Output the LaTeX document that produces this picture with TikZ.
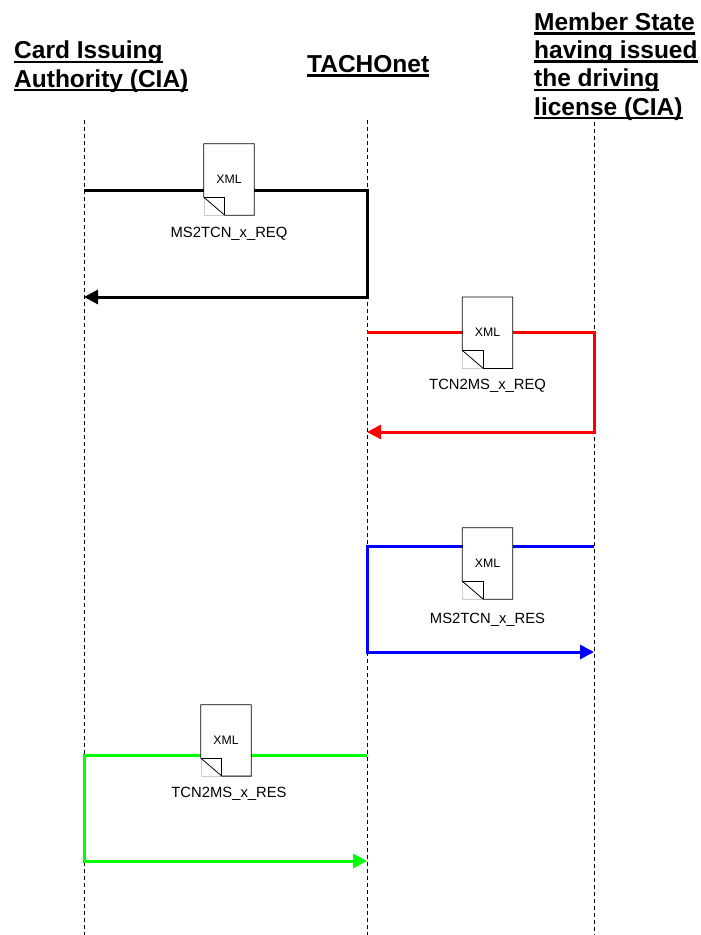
\documentclass[tikz,border=0pt]{standalone}
\usepackage{fontspec}
\setmainfont{Liberation Sans}
\usetikzlibrary{arrows.meta}

\newcommand\hdrul[1]{\setbox0=\hbox{#1}\rlap{\rule[-4.3pt]{\wd0}{2.6pt}}\box0}
\newcommand\xmlfold[1]{%
  \draw [gray!40] ([yshift=18pt]#1.south west) -- (#1.south west) -- ([xshift=21pt]#1.south west);
  \draw [line width=.8pt] (#1.north west) -- (#1.north east) -- (#1.south east) -- ([xshift=21pt]#1.south west) -- ([yshift=18pt]#1.south west) -- cycle;
  \draw [line width=.8pt] ([yshift=18pt]#1.south west) -- ([xshift=21pt,yshift=18pt]#1.south west) -- ([xshift=21pt]#1.south west);}

\tikzset{
  lifeline/.style={line width=.8pt, dash pattern=on 4pt off 3pt},
  msg/.style={line width=3pt, -{Triangle[length=14pt,width=14pt]}},
  xmldoc/.style={fill=white, minimum width=50pt, minimum height=71pt, inner sep=0pt, font=\fontsize{12.3}{14}\selectfont},
  msglabel/.style={anchor=base, inner sep=0pt, font=\fontsize{14.8}{17}\selectfont},
  header/.style={anchor=base west, inner sep=0pt, align=left, font=\fontsize{24.5}{28.2}\selectfont\bfseries},
}

\begin{document}
\begin{tikzpicture}[x=1pt, y=-1pt]
		\useasboundingbox (0,0) rectangle (701,935);

		% base anchor sits on the last line
		\node (cia) at (14,87) [header] {\hdrul{Card Issuing}\\\hdrul{Authority (CIA)}};
		\node (tcn) at (307,72.7) [header] {\hdrul{TACHOnet}};
		\node (ms) at (534,115) [header] {\hdrul{Member State}\\\hdrul{having issued}\\\hdrul{the driving}\\\hdrul{license (CIA)}};

		\draw [lifeline] (84,120) -- (84,935);
		\draw [lifeline] (367,120) -- (367,935);
		\draw [lifeline] (594,122) -- (594,935);

		% MS2TCN_x_REQ
		\coordinate (cia1) at (84,190);
		\coordinate (tcn1) at (367,190);
		\coordinate (cia2) at (84,297);
		\draw [msg, black] (cia1) -- (tcn1) |- (cia2);
		\node (doc1) at (229,179.5) [xmldoc] {XML};
		\xmlfold{doc1}
		\node (lab1) at (229,237.3) [msglabel] {MS2TCN\_x\_REQ};

		% TCN2MS_x_REQ
		\coordinate (tcn2) at (367,332);
		\coordinate (ms2) at (594,332);
		\coordinate (tcn3) at (367,432);
		\draw [msg, red] (tcn2) -- (ms2) |- (tcn3);
		\node (doc2) at (487.5,332.7) [xmldoc] {XML};
		\xmlfold{doc2}
		\node (lab2) at (487.6,389) [msglabel] {TCN2MS\_x\_REQ};

		% MS2TCN_x_RES
		\coordinate (ms3) at (594,546);
		\coordinate (tcn4) at (367,546);
		\coordinate (ms4) at (594,652);
		\draw [msg, blue] (ms3) -- (tcn4) |- (ms4);
		\node (doc3) at (487.5,563.5) [xmldoc] {XML};
		\xmlfold{doc3}
		\node (lab3) at (487.5,623.3) [msglabel] {MS2TCN\_x\_RES};

		% TCN2MS_x_RES
		\coordinate (tcn5) at (367,755);
		\coordinate (cia3) at (84,755);
		\coordinate (tcn6) at (367,861);
		\draw [msg, green] (tcn5) -- (cia3) |- (tcn6);
		\node (doc4) at (226,740.4) [xmldoc] {XML};
		\xmlfold{doc4}
		\node (lab4) at (229,797.3) [msglabel] {TCN2MS\_x\_RES};
\end{tikzpicture}
\end{document}
